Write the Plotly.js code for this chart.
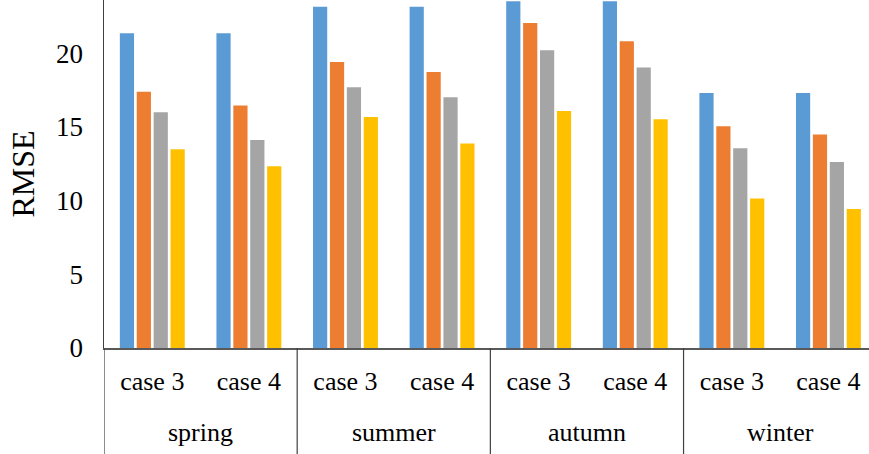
<!DOCTYPE html>
<html><head><meta charset="utf-8">
<script src="https://cdn.plot.ly/plotly-3.0.1.min.js"></script>
<style>html,body{margin:0;padding:0;background:#fff}#chart{width:869px;height:454px}</style>
</head><body><div id="chart"></div>
<script>
const seasons = ["spring","spring","summer","summer","autumn","autumn","winter","winter"];
const cases = ["case 3","case 4","case 3","case 4","case 3","case 4","case 3","case 4"];
const seriesNames = ["Series 1","Series 2","Series 3","Series 4"];
const series1 = [21.34,21.34,23.15,23.15,23.52,23.52,17.29,17.29];
const series2 = [17.38,16.45,19.40,18.72,22.04,20.80,15.03,14.48];
const series3 = [15.98,14.10,17.68,17.00,20.19,19.03,13.55,12.62];
const series4 = [13.48,12.33,15.66,13.87,16.07,15.52,10.14,9.43];
const colors = ["#5B9BD5","#ED7D31","#A5A5A5","#FFC000"];
const yTicks = [0,5,10,15,20];

const font = "'Liberation Serif','Times New Roman',serif";
const idx = cases.map((_, i) => i);
const traces = [series1,series2,series3,series4].map((vals,i)=>({
  type:'bar', name:seriesNames[i], x:idx, y:vals,
  marker:{color:colors[i], line:{width:0}}, hoverinfo:'skip'
}));

// season groups -> label annotations and divider shapes
const groups = [];
seasons.forEach((s,i)=>{
  if (!groups.length || groups[groups.length-1].name !== s) groups.push({name:s, start:i, end:i});
  else groups[groups.length-1].end = i;
});
const bottom = -106/348;
const shapes = [];
groups.forEach(g=>{
  shapes.push({type:'line', xref:'x', yref:'paper', x0:g.start-0.5, x1:g.start-0.5, y0:0, y1:bottom,
    line:{color:'#404040', width:1.2}});
});
const last = groups[groups.length-1];
shapes.push({type:'line', xref:'x', yref:'paper', x0:last.end+0.5, x1:last.end+0.5, y0:0, y1:bottom,
  line:{color:'#404040', width:1.2}});
const annotations = groups.map(g=>({
  xref:'x', yref:'paper', x:(g.start+g.end)/2, y:-(432-348)/348, yanchor:'middle', xanchor:'center',
  text:g.name, showarrow:false, font:{family:font, size:26, color:'#000'}
}));

const layout = {
  width:869, height:454,
  margin:{l:104,r:0,t:0,b:106},
  paper_bgcolor:'#fff', plot_bgcolor:'#fff',
  showlegend:false, barmode:'group', bargap:0.3, bargroupgap:0.16,
  font:{family:font, color:'#000'},
  xaxis:{range:[-0.5,7.42], tickvals:idx, ticktext:cases, showline:true, linecolor:'#595959', linewidth:1.5,
    ticks:'', showgrid:false, zeroline:false, ticklabelstandoff:9,
    tickfont:{family:font,size:26,color:'#000'}, fixedrange:true},
  yaxis:{range:[0,23.6], tickvals:yTicks, ticktext:yTicks.map(String), showgrid:false, zeroline:false,
    showline:true, linecolor:'#404040', linewidth:1.5, ticks:'', ticklabelstandoff:14,
    tickfont:{family:font,size:27,color:'#000'},
    title:{text:'RMSE', font:{family:font,size:32,color:'#000'}, standoff:12}},
  shapes:shapes, annotations:annotations
};
Plotly.newPlot('chart', traces, layout, {staticPlot:true});
</script></body></html>
